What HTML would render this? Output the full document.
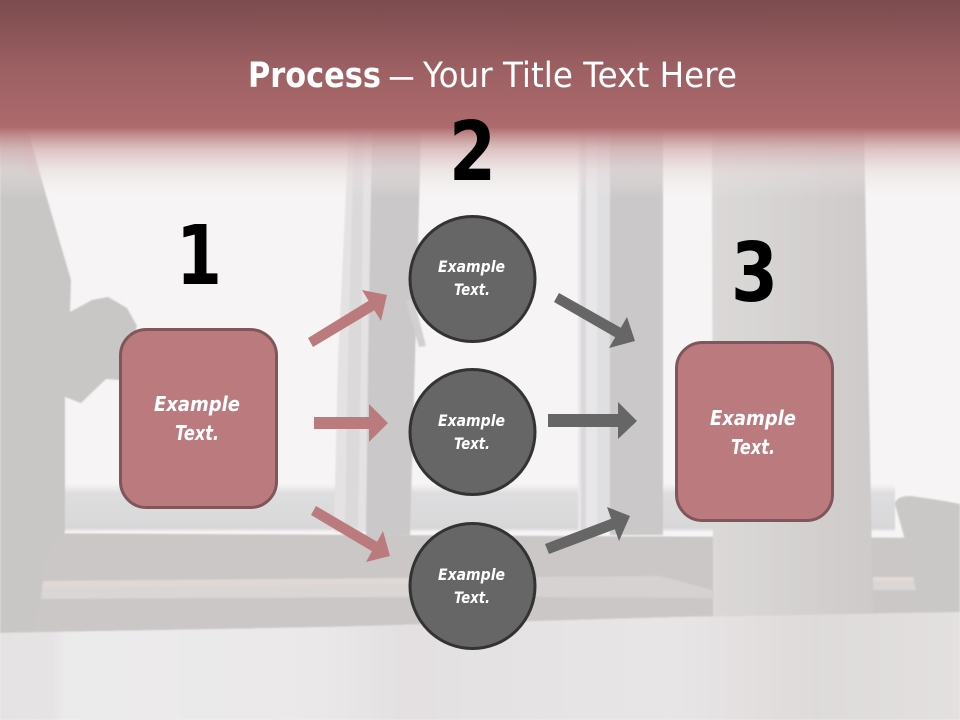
<!DOCTYPE html>
<html lang="en">
<head>
<meta charset="utf-8">
<title>Process</title>
<style>
html,body{margin:0;padding:0;background:#f6f3f3}
svg{display:block}
</style>
</head>
<body>
<svg xmlns="http://www.w3.org/2000/svg" width="960" height="720" viewBox="0 0 960 720">
<defs>
<linearGradient id="hdr" x1="0" y1="0" x2="0" y2="1">
<stop offset="0" stop-color="#7b4c4e"/>
<stop offset="0.55" stop-color="#9d6063"/>
<stop offset="1" stop-color="#ae6a6d"/>
</linearGradient>
<linearGradient id="fade" x1="0" y1="0" x2="0" y2="1">
<stop offset="0" stop-color="#b06e71" stop-opacity="1"/>
<stop offset="0.1" stop-color="#bd8587" stop-opacity="0.92"/>
<stop offset="0.3" stop-color="#d4b0b1" stop-opacity="0.75"/>
<stop offset="0.6" stop-color="#e6d8d9" stop-opacity="0.55"/>
<stop offset="1" stop-color="#f0ecec" stop-opacity="0"/>
</linearGradient>
<linearGradient id="hor" x1="0" y1="0" x2="0" y2="1">
<stop offset="0" stop-color="#f6f4f4"/>
<stop offset="0.2" stop-color="#dedddf"/>
<stop offset="1" stop-color="#d8d7d8"/>
</linearGradient>
<linearGradient id="table" x1="0" y1="0" x2="1" y2="0">
<stop offset="0" stop-color="#e5e2e3"/>
<stop offset="0.055" stop-color="#e6e3e4"/>
<stop offset="0.07" stop-color="#ecebec"/>
<stop offset="0.33" stop-color="#eae8e9"/>
<stop offset="0.42" stop-color="#e3e0e1"/>
<stop offset="0.58" stop-color="#e6e3e4"/>
<stop offset="0.7" stop-color="#e8e5e6"/>
<stop offset="0.85" stop-color="#dedada"/>
<stop offset="1" stop-color="#e3e0e0"/>
</linearGradient>
<linearGradient id="col" x1="0" y1="0" x2="1" y2="0">
<stop offset="0" stop-color="#dbd8d8"/>
<stop offset="1" stop-color="#cecaca"/>
</linearGradient>
<filter id="b" x="-5%" y="-5%" width="110%" height="110%"><feGaussianBlur stdDeviation="0.8"/></filter>
</defs>

<rect width="960" height="720" fill="#f6f4f4"/>

<g filter="url(#b)">
<!-- horizon -->
<rect x="65" y="484" width="830" height="46" fill="url(#hor)"/>
<rect x="65" y="529" width="830" height="2" fill="#e6e4e4"/>
<!-- lower wall and sill -->
<polygon points="0,533 960,538 960,612 680,617 330,627 0,633" fill="#cbc7c7"/>
<polygon points="43,581 410,578 410,597 41,599" fill="#d9d6d5"/>
<polygon points="43,581 410,578 410,584 43,588" fill="#e0d8d4"/>
<polygon points="536,577 660,576 712,590 712,598 536,597" fill="#d6d2d1"/>
<polygon points="873,577 914,577 916,590 873,590" fill="#dad6d5"/>
<rect x="873" y="577" width="41" height="4" fill="#e2dad5"/>
<!-- mullion 1 -->
<polygon points="349,130 372,130 368,360 366,532 334,532 338,360" fill="#e4e2e3"/>
<polygon points="354,130 364,130 361,360 358,528 345,528 348,360" fill="#dbd9da"/>
<polygon points="372,130 421,130 415,360 410,535 366,535 368,360" fill="#cbc8c9"/>
<polygon points="406,300 414,300 426,346 419,347" fill="#d2d0d1"/>
<!-- mullion 2 -->
<rect x="578" y="130" width="32" height="400" fill="#e8e6e7"/>
<rect x="581" y="130" width="5" height="400" fill="#dad8d9"/>
<rect x="597" y="130" width="13" height="400" fill="#dfdee1"/>
<rect x="610" y="130" width="53" height="405" fill="#cbc8c9"/>
<!-- column -->
<polygon points="712,130 864,130 873,616 713,617" fill="url(#col)"/>
<!-- chair -->
<path d="M895,504 Q896,496 910,496 Q935,499 960,504 L960,612 L921,614 L916,590 L905,540 Z" fill="#cac7c7"/>
<!-- table -->
<polygon points="0,633 330,627 680,617 960,612 960,720 0,720" fill="url(#table)"/>
<!-- person -->
<path d="M0,130 L28,130 L46,195 L71,280 L70,312 L92,300 L108,297 L127,308 L137,326 L120,380 L106,379 L81,403 L65,397 L65,532 L43,560 L40,600 L34,630 L0,633 Z" fill="#c9c6c6"/>
<polygon points="20,135 30,135 36,175 27,172" fill="#cdbdba"/>
</g>

<!-- header -->
<rect x="0" y="128" width="960" height="70" fill="url(#fade)"/>
<rect x="0" y="0" width="960" height="128" fill="url(#hdr)"/>

<!-- title -->
<text x="248" y="87" font-family="'DejaVu Sans','Liberation Sans',sans-serif" font-size="35" font-weight="700" fill="#fff" textLength="133" lengthAdjust="spacingAndGlyphs">Process</text>
<text x="390" y="87" font-family="'Liberation Sans',sans-serif" font-size="34" fill="#fff" stroke="#fff" stroke-width="0.4" textLength="23" lengthAdjust="spacingAndGlyphs">–</text>
<text x="423" y="87" font-family="'DejaVu Sans','Liberation Sans',sans-serif" font-size="35" fill="#fff" textLength="314" lengthAdjust="spacingAndGlyphs">Your Title Text Here</text>

<!-- numbers -->
<g font-family="'DejaVu Sans','Liberation Sans',sans-serif" font-size="82" font-weight="700" fill="#000">
<text x="176" y="284" textLength="46" lengthAdjust="spacingAndGlyphs">1</text>
<text x="449" y="180" textLength="47" lengthAdjust="spacingAndGlyphs">2</text>
<text x="731" y="301" textLength="47" lengthAdjust="spacingAndGlyphs">3</text>
</g>

<!-- pink arrows -->
<g fill="#bb7b7e">
<polygon points="308,338 313,347 374.4,310.2 381,321 387,295 362,290 368.6,300.8"/>
<polygon points="314,417 369,417 369,404 388,423 369,442 369,429 314,429"/>
<polygon points="316,506 311,515 371.9,551.3 366,562 390,556 383,531 377.1,541.7"/>
</g>
<!-- gray arrows -->
<g fill="#666666">
<polygon points="559,293 554,302 615.2,337.3 609,348 635,341 627,317 620.8,327.7"/>
<polygon points="548,414 618,414 618,402 637,421 618,439 618,427 548,427"/>
<polygon points="545,544 549,554 614.8,529.2 619,541 630,516 607,507 611.2,518.8"/>
</g>

<!-- boxes -->
<rect x="120.5" y="329.5" width="156" height="178" rx="26" ry="26" fill="#bb7b7e" stroke="#80565a" stroke-width="3"/>
<rect x="676.5" y="342.5" width="156" height="178" rx="26" ry="26" fill="#bb7b7e" stroke="#80565a" stroke-width="3"/>

<!-- circles -->
<g fill="#666666" stroke="#333333" stroke-width="3">
<circle cx="472.5" cy="279" r="62.5"/>
<circle cx="472.5" cy="432" r="62.5"/>
<circle cx="472.5" cy="586" r="62.5"/>
</g>

<!-- labels -->
<g font-family="'DejaVu Sans','Liberation Sans',sans-serif" font-weight="700" font-style="italic" fill="#fff" font-size="20">
<text x="154" y="411" textLength="86" lengthAdjust="spacingAndGlyphs">Example</text>
<text x="175" y="440" textLength="44" lengthAdjust="spacingAndGlyphs">Text.</text>
<text x="710" y="425" textLength="86" lengthAdjust="spacingAndGlyphs">Example</text>
<text x="731" y="454" textLength="44" lengthAdjust="spacingAndGlyphs">Text.</text>
</g>
<g font-family="'DejaVu Sans','Liberation Sans',sans-serif" font-weight="700" font-style="italic" fill="#fff" font-size="16">
<text x="438" y="272" textLength="67" lengthAdjust="spacingAndGlyphs">Example</text>
<text x="454" y="295" textLength="36" lengthAdjust="spacingAndGlyphs">Text.</text>
<text x="438" y="426" textLength="67" lengthAdjust="spacingAndGlyphs">Example</text>
<text x="454" y="449" textLength="36" lengthAdjust="spacingAndGlyphs">Text.</text>
<text x="438" y="580" textLength="67" lengthAdjust="spacingAndGlyphs">Example</text>
<text x="454" y="603" textLength="36" lengthAdjust="spacingAndGlyphs">Text.</text>
</g>
</svg>
</body>
</html>
